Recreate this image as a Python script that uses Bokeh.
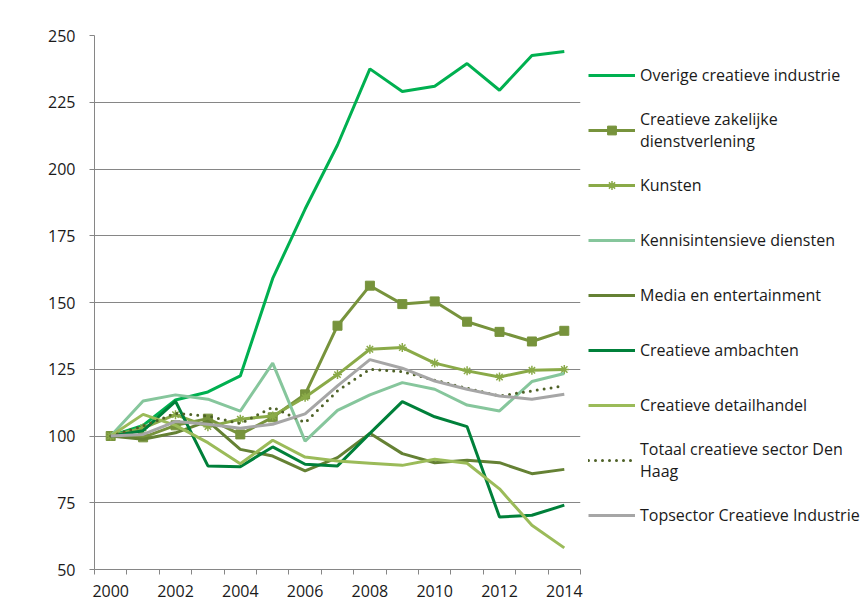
from bokeh.plotting import figure
from bokeh.models import Range1d, FixedTicker, Legend, LegendItem
from bokeh.embed import file_html
from bokeh.resources import INLINE

years = list(range(2000, 2015))
y_ticks = [50, 75, 100, 125, 150, 175, 200, 225, 250]
x_label_years = [2000, 2002, 2004, 2006, 2008, 2010, 2012, 2014]

overige = [100, 104, 113.5, 116.5, 122.5, 159, 185, 209, 237.5, 229, 231, 239.5, 229.5, 242.5, 244]
zakelijk = [100, 99.5, 104, 106.5, 100.6, 107, 115.6, 141.3, 156.3, 149.4, 150.4, 142.8, 139, 135.4, 139.4]
kunsten = [100, 103, 108, 103.5, 106.3, 107.5, 114.5, 123, 132.5, 133.1, 127.3, 124.4, 122.1, 124.6, 124.9]
kennis = [100, 113.1, 115.4, 113.8, 109.3, 127.3, 98.1, 109.6, 115.4, 120, 117.5, 111.6, 109.4, 120.4, 123.4]
media = [100, 98.8, 101.2, 105.6, 95, 92.5, 86.9, 91.9, 101, 93.4, 90, 90.9, 90, 85.9, 87.5]
ambachten = [100, 102, 113, 88.8, 88.5, 95.9, 89.4, 88.8, 101, 112.9, 107.2, 103.5, 69.7, 70.3, 74.1]
detailhandel = [100, 108.1, 104, 97.5, 89.6, 98.4, 92.1, 90.6, 89.8, 89, 91.3, 89.8, 80.2, 66.6, 58.1]
totaal = [100, 103.8, 108.5, 107.5, 104.6, 110.8, 105, 116.9, 125, 124.1, 120.9, 117.9, 115, 116.9, 118.8]
topsector = [100, 100.6, 105.4, 104.4, 102.9, 104.4, 108.3, 118.8, 128.6, 125.4, 120.6, 117.5, 115, 113.8, 115.6]

labels = [
    "Overige creatieve industrie",
    "Creatieve zakelijke\ndienstverlening",
    "Kunsten",
    "Kennisintensieve diensten",
    "Media en entertainment",
    "Creatieve ambachten",
    "Creatieve detailhandel",
    "Totaal creatieve sector Den\nHaag",
    "Topsector Creatieve Industrie",
]

FONT = "Open Sans"
AXIS_COL = "#868686"
TEXT_COL = "#1a1a1a"

p = figure(frame_width=486, frame_height=534,
           x_range=Range1d(1999.5, 2014.5), y_range=Range1d(50, 250),
           output_backend="svg", toolbar_location=None,
           min_border_left=94, min_border_top=35, min_border_bottom=31,
           min_border_right=284)
p.outline_line_color = None
p.background_fill_color = "white"
p.border_fill_color = "white"

# x axis: labels at every second year, tick marks between categories
p.xaxis.ticker = FixedTicker(ticks=x_label_years,
                             minor_ticks=[y - 0.5 for y in years] + [years[-1] + 0.5])
p.xaxis.major_label_overrides = {y: str(y) for y in x_label_years}
p.xaxis.major_tick_out = 0
p.xaxis.major_tick_in = 0
p.xaxis.minor_tick_out = 5
p.xaxis.minor_tick_in = 0
p.xaxis.minor_tick_line_color = AXIS_COL
p.xaxis.axis_line_color = AXIS_COL
p.xaxis.major_label_standoff = 10
# y axis
p.yaxis.ticker = FixedTicker(ticks=y_ticks, minor_ticks=[])
p.yaxis.major_tick_out = 5
p.yaxis.major_tick_in = 0
p.yaxis.major_tick_line_color = AXIS_COL
p.yaxis.axis_line_color = AXIS_COL
p.yaxis.major_label_standoff = 14
for ax in (p.xaxis, p.yaxis):
    ax.major_label_text_font = FONT
    ax.major_label_text_font_size = "16px"
    ax.major_label_text_color = TEXT_COL

p.xgrid.visible = False
p.ygrid.ticker = FixedTicker(ticks=y_ticks, minor_ticks=[])
p.ygrid.grid_line_color = AXIS_COL
p.ygrid.grid_line_width = 1

W = 3
items = []

r = p.line(years, overige, line_color="#00B050", line_width=W)
items.append(LegendItem(label=labels[0], renderers=[r]))

r1 = p.line(years, zakelijk, line_color="#77933C", line_width=W)
r2 = p.scatter(years, zakelijk, marker="square", size=9, fill_color="#77933C", line_color="#77933C")
items.append(LegendItem(label=labels[1], renderers=[r1, r2]))

r1 = p.line(years, kunsten, line_color="#8AAA48", line_width=W)
r2 = p.scatter(years, kunsten, marker="asterisk", size=9, line_color="#8AAA48", line_width=1.5)
items.append(LegendItem(label=labels[2], renderers=[r1, r2]))

r = p.line(years, kennis, line_color="#86C69C", line_width=W)
items.append(LegendItem(label=labels[3], renderers=[r]))

r = p.line(years, media, line_color="#658134", line_width=W)
items.append(LegendItem(label=labels[4], renderers=[r]))

r = p.line(years, ambachten, line_color="#00803A", line_width=W)
items.append(LegendItem(label=labels[5], renderers=[r]))

r = p.line(years, detailhandel, line_color="#9BBB59", line_width=W)
items.append(LegendItem(label=labels[6], renderers=[r]))

r = p.line(years, totaal, line_color="#4F6228", line_width=3, line_dash="0 7", line_cap="round")
items.append(LegendItem(label=labels[7], renderers=[r]))

r = p.line(years, topsector, line_color="#A6A6A6", line_width=W)
items.append(LegendItem(label=labels[8], renderers=[r]))

legend = Legend(items=items, location=(8, 32), margin=0, padding=0,
                glyph_width=47, glyph_height=22, label_height=44,
                label_standoff=5, spacing=11,
                label_text_font=FONT, label_text_font_size="16px",
                label_text_color=TEXT_COL,
                border_line_color=None, background_fill_alpha=0)
p.add_layout(legend, "right")

open("out.html", "w").write(file_html(p, INLINE))
